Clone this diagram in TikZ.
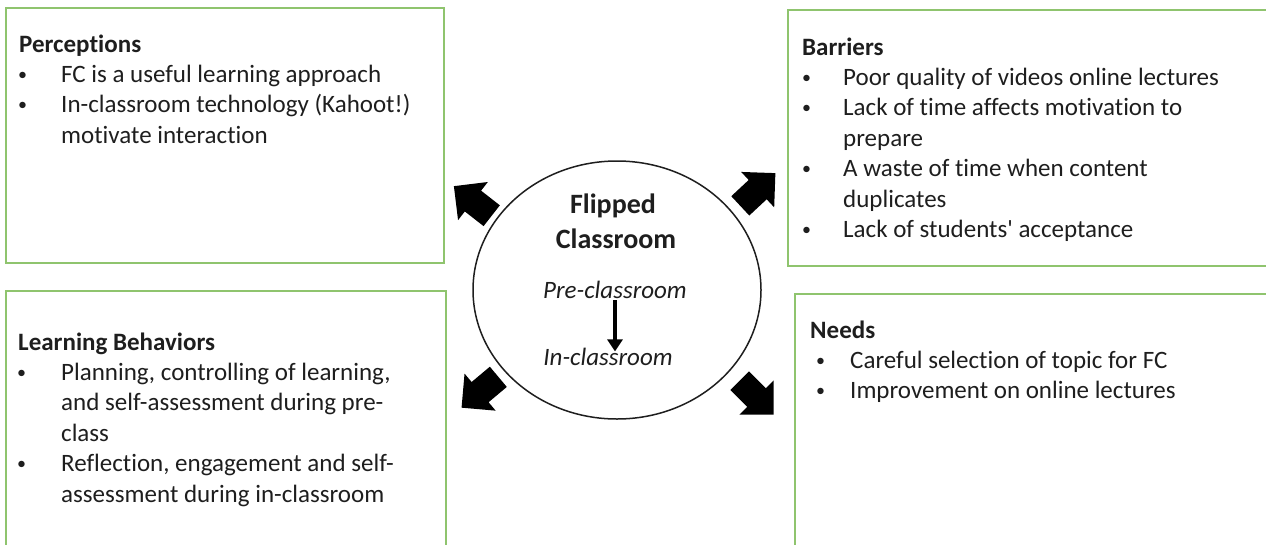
\documentclass[tikz,border=0pt]{standalone}
\usepackage{fontspec}
\setmainfont{Carlito}[Ligatures = {TeX, NoCommon}]
\usetikzlibrary{shapes.geometric,shapes.arrows,arrows.meta}

\definecolor{boxgreen}{HTML}{8FC46E}
\definecolor{inkgrey}{HTML}{1E1E1E}

% small list bullet: #1 = shift, #2 = column width
\newcommand{\bul}[2][-1pt]{\makebox[#2][l]{\hspace{#1}\raisebox{2pt}{\fontsize{18}{18}\selectfont\textbullet}}}

\tikzset{
  greenbox/.style = {draw = boxgreen, line width = 1.8pt, rectangle, inner sep = 0pt, anchor = north west},
  listtext/.style = {inner sep = 0pt, anchor = base west, text = inkgrey, font = \fontsize{25}{30.4}\selectfont},
  centretext/.style = {anchor = base, inner sep = 0pt, text = inkgrey},
  bigarrow/.style = {single arrow, fill = black, inner sep = 0pt, inner ysep = 13pt, minimum height = 48pt,
                     single arrow head extend = 11pt, single arrow tip angle = 90},
}

\begin{document}
\begin{tikzpicture}[x = 1pt, y = -1pt]
\useasboundingbox (0, 0) rectangle (1266, 544);

% the four boxes (right and bottom ones run off the page)
\node[greenbox, minimum width = 438pt, minimum height = 255pt] (percbox) at (5, 7) {};
\node[greenbox, minimum width = 500pt, minimum height = 256pt] (barrbox) at (787, 9) {};
\node[greenbox, minimum width = 500pt, minimum height = 280pt] (needbox) at (794, 293) {};
\node[greenbox, minimum width = 440pt, minimum height = 280pt] (learnbox) at (5, 290) {};

\node[listtext] (perctext) at ([shift = {(14, 45)}]percbox.north west) {%
\begin{tabular}[t]{@{}l@{}l@{}}
\multicolumn{2}{@{}l}{\bfseries Perceptions}\\
\bul{42pt} & FC is a useful learning approach\\
\bul{42pt} & In-classroom technology (Kahoot!)\\
 & motivate interaction
\end{tabular}};

\node[listtext] (barrtext) at ([shift = {(15, 46)}]barrbox.north west) {%
\begin{tabular}[t]{@{}l@{}l@{}}
\multicolumn{2}{@{}l}{\bfseries Barriers}\\
\bul[0pt]{41pt} & Poor quality of videos online lectures\\
\bul[0pt]{41pt} & Lack of time affects motivation to\\
 & prepare\\
\bul[0pt]{41pt} & A waste of time when content\\
 & duplicates\\
\bul[0pt]{41pt} & Lack of students\textquotesingle\ acceptance
\end{tabular}};

\node[listtext] (needtext) at ([shift = {(16, 45)}]needbox.north west) {%
\begin{tabular}[t]{@{}l@{}l@{}}
\multicolumn{2}{@{}l}{\bfseries Needs}\\
\bul[6pt]{40pt} & Careful selection of topic for FC\\
\bul[6pt]{40pt} & Improvement on online lectures
\end{tabular}};

\node[listtext] (learntext) at ([shift = {(13, 60)}]learnbox.north west) {%
\begin{tabular}[t]{@{}l@{}l@{}}
\multicolumn{2}{@{}l}{\bfseries Learning Behaviors}\\
\bul{43pt} & Planning, controlling of learning,\\
 & and self-assessment\ during pre-\\
 & class\\
\bul{43pt} & Reflection, engagement and self-\\
 & assessment\ during in-classroom
\end{tabular}};

% centre
\node[draw = inkgrey, line width = 1.5pt, ellipse, minimum width = 288pt, minimum height = 258pt] (fc) at (617, 290) {};
\node[centretext, font = \bfseries\fontsize{28}{35}\selectfont] (flip) at (613, 213) {Flipped};
\node[centretext, font = \bfseries\fontsize{28}{35}\selectfont] (classr) at (616, 248) {Classroom};
\node[centretext, font = \itshape\fontsize{25}{30}\selectfont] (pre) at (615, 298) {Pre-classroom};
\node[centretext, font = \itshape\fontsize{25}{30}\selectfont] (inclass) at (608, 365) {In-classroom};
\draw[line width = 4pt, -{Triangle[length = 12pt, width = 15pt]}] ([yshift = -2pt]pre.south) -- ([yshift = -4pt]pre.south |- inclass.north);

% block arrows out to the boxes
\node[bigarrow, rotate = 142] (toperc) at (478, 205) {};
\node[bigarrow, rotate = 43] (tobarr) at (753, 194) {};
\node[bigarrow, rotate = 220] (tolearn) at (485, 388) {};
\node[bigarrow, rotate = -45] (toneed) at (752, 393) {};
\end{tikzpicture}
\end{document}
